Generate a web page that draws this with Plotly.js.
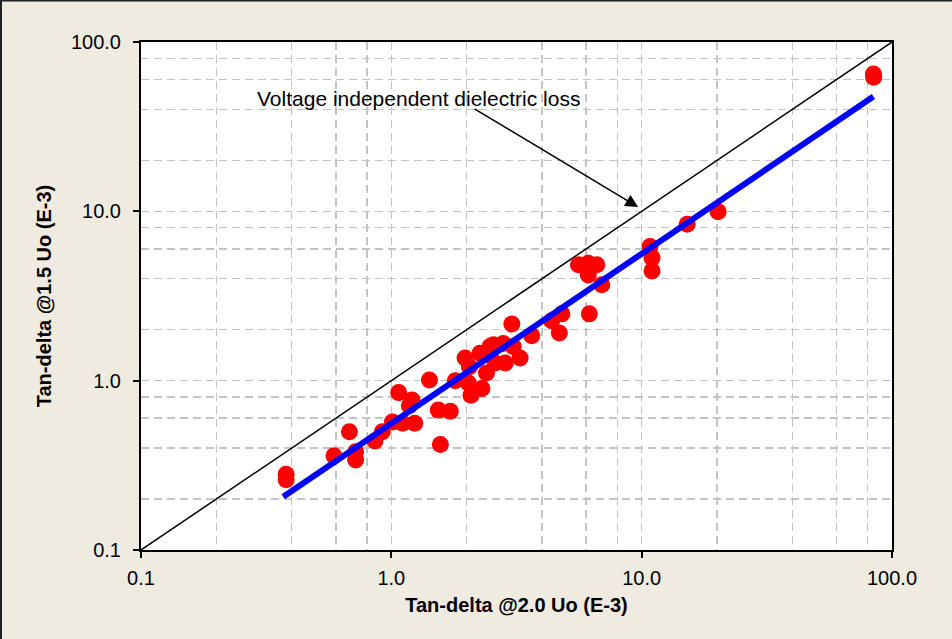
<!DOCTYPE html>
<html>
<head>
<meta charset="utf-8">
<script src="https://cdn.plot.ly/plotly-3.0.1.min.js"></script>
<style>html,body{margin:0;padding:0;background:#EFEBE0;}</style>
</head>
<body>
<div id="chart" style="width:952px;height:639px;"></div>
<script>
// Tan-delta at 2.0 Uo (x) vs at 1.5 Uo (y), units E-3
const xVals = [0.38, 0.38, 0.59, 0.68, 0.72, 0.72, 0.86, 0.92, 1.01, 1.11, 1.24, 1.07, 1.21, 1.18,
  1.42, 1.54, 1.72, 1.57, 1.80, 1.97, 2.05, 2.03, 2.08, 2.30, 2.26, 2.40, 2.48, 2.60, 2.80, 2.85,
  3.07, 3.27, 2.56, 3.03, 3.64, 4.37, 4.80, 4.69, 6.18, 5.59, 6.12, 6.62, 6.12, 6.93,
  10.8, 11.0, 11.0, 15.2, 20.2, 84.3, 84.5];
const yVals = [0.26, 0.28, 0.36, 0.50, 0.38, 0.34, 0.44, 0.50, 0.57, 0.56, 0.56, 0.85, 0.77, 0.71,
  1.01, 0.67, 0.66, 0.42, 1.00, 1.36, 1.21, 0.97, 0.82, 0.90, 1.45, 1.11, 1.59, 1.27, 1.66, 1.27,
  1.59, 1.36, 1.63, 2.16, 1.84, 2.26, 2.48, 1.91, 2.48, 4.83, 4.94, 4.83, 4.21, 3.68,
  6.19, 5.31, 4.45, 8.39, 9.96, 64.8, 62.0];

// Regression line endpoints and the "voltage independent" identity line
const fitX = [0.37, 84.3];
const fitY = [0.206, 47.6];
const refX = [0.1, 100];
const refY = [0.1, 100];

const tickValues = [0.1, 1, 10, 100];
const tickLabels = ['0.1', '1.0', '10.0', '100.0'];
const minorValues = [0.2, 0.4, 0.6, 0.8, 2, 4, 6, 8, 20, 40, 60, 80];

const noteText = 'Voltage independent dielectric loss';
const xTitle = 'Tan-delta @2.0 Uo (E-3)';
const yTitle = 'Tan-delta @1.5 Uo (E-3)';

const tickFont = {family: 'Liberation Sans Narrow, Liberation Sans, Arial, sans-serif', size: 20, color: '#000'};
const titleFont = {family: 'Liberation Sans, Arial, sans-serif', size: 20, color: '#000', weight: 'bold'};

function axis(title, standoffLabel, standoffTitle) {
  return {
    type: 'log', range: [-1, 2], autorange: false,
    tickmode: 'array', tickvals: tickValues, ticktext: tickLabels,
    ticks: 'outside', ticklen: 6, tickwidth: 2, tickcolor: '#000',
    ticklabelstandoff: standoffLabel,
    tickfont: tickFont,
    showline: true, linecolor: '#000', linewidth: 2, mirror: true,
    showgrid: true, gridcolor: '#C4C4C4', gridwidth: 1.5, griddash: '8px,5px',
    minor: {tickmode: 'array', tickvals: minorValues, ticks: '', showgrid: true,
            gridcolor: '#C4C4C4', gridwidth: 1.5, griddash: '8px,5px'},
    zeroline: false,
    title: {text: title, font: titleFont, standoff: standoffTitle}
  };
}

const traces = [
  {x: refX, y: refY, mode: 'lines', line: {color: '#000', width: 1.5}, hoverinfo: 'skip'},
  {x: xVals, y: yVals, mode: 'markers', marker: {color: '#FF0000', size: 17}},
  {x: fitX, y: fitY, mode: 'lines', line: {color: '#0000FF', width: 6}}
];

const layout = {
  width: 952, height: 639,
  margin: {l: 141, r: 60, t: 42, b: 89},
  paper_bgcolor: '#EFEBE0', plot_bgcolor: '#FFFFFF',
  showlegend: false,
  xaxis: axis(xTitle, 3, 10),
  yaxis: axis(yTitle, 8, 14),
  annotations: [
    {xref: 'x', yref: 'y', x: Math.log10(1.28), y: Math.log10(46.1), text: noteText,
     showarrow: false, font: {family: 'Liberation Sans, Arial, sans-serif', size: 21, color: '#000'}},
    {xref: 'x', yref: 'y', axref: 'x', ayref: 'y',
     x: Math.log10(9.68), y: Math.log10(10.6),
     ax: Math.log10(2.12), ay: Math.log10(40.8),
     text: '', showarrow: true, arrowhead: 2, arrowsize: 1.6, arrowwidth: 1.6, arrowcolor: '#000'}
  ],
  shapes: [
    {type: 'line', xref: 'paper', yref: 'paper', x0: -141/751, x1: 811/751, y0: 1 + 42/508 - 0.5/508, y1: 1 + 42/508 - 0.5/508,
     line: {color: '#222', width: 2}},
    {type: 'line', xref: 'paper', yref: 'paper', x0: -140/751, x1: -140/751, y0: -89/508, y1: 1 + 42/508,
     line: {color: '#222', width: 2}}
  ]
};

Plotly.newPlot('chart', traces, layout, {displayModeBar: false, staticPlot: true});
</script>
</body>
</html>
